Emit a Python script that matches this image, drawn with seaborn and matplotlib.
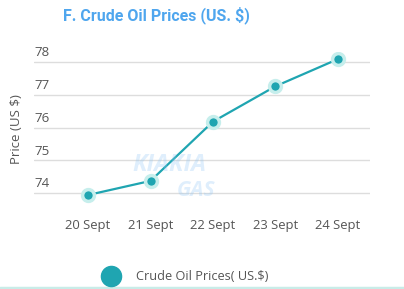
import matplotlib
matplotlib.use("Agg")
import matplotlib.pyplot as plt
import seaborn as sns
import pandas as pd
from matplotlib.lines import Line2D

dates = ["20 Sept", "21 Sept", "22 Sept", "23 Sept", "24 Sept"]
prices = [73.94, 74.37, 76.18, 77.26, 78.09]
y_ticks = [74, 75, 76, 77, 78]
title = "F. Crude Oil Prices (US. $)"
y_label = "Price (US $)"
series_name = "Crude Oil Prices( US.$)"

sns.set_theme(style="white")
plt.rcParams["font.family"] = ["Open Sans", "DejaVu Sans"]

LINE = "#1fa5b1"
HALO = "#c6eeec"
GRAY = "#555555"

df = pd.DataFrame({"date": dates, "price": prices})
df["pos"] = range(len(dates))

fig = plt.figure(figsize=(4.04, 2.89), dpi=100)
ax = fig.add_axes([0.0842, 0.2754, 0.8316, 0.544])

# faint watermark (behind the data)
fig.text(0.42, 0.43, "KIAKIA", ha="center", va="center", fontsize=17,
         fontweight="bold", style="italic", color="#8cc4f5", alpha=0.28, zorder=0)
fig.text(0.485, 0.34, "GAS", ha="center", va="center", fontsize=15,
         fontweight="bold", style="italic", color="#8cc4f5", alpha=0.28, zorder=0)

sns.lineplot(data=df, x="pos", y="price", ax=ax, color=LINE, linewidth=1.6,
             marker="o", markersize=8.5, markerfacecolor=LINE,
             markeredgecolor=HALO, markeredgewidth=2.5, zorder=3)
ax.patch.set_alpha(0)

ax.set_xlim(-0.864, 4.512)
ax.set_ylim(73.5, 78.3)
ax.set_xticks(df["pos"])
ax.set_xticklabels(dates, fontsize=9.4, color=GRAY)
ax.set_yticks(y_ticks)
ax.set_yticklabels([])
ax.tick_params(axis="both", length=0)
ax.tick_params(axis="x", pad=7)
ax.grid(axis="y", color="#dddddd", linewidth=1.0)
ax.grid(axis="x", visible=False)
for s in ax.spines.values():
    s.set_visible(False)
ax.set_xlabel("")
ax.set_ylabel("")

for v in y_ticks:
    ax.annotate(str(v), xy=(0, v), xycoords=("axes fraction", "data"),
                xytext=(0, 2), textcoords="offset points",
                ha="left", va="bottom", fontsize=9.5, color=GRAY)

fig.text(0.042, 0.554, y_label, rotation=90, ha="center", va="center",
         fontsize=9.5, color=GRAY)

fig.text(0.388, 0.947, title, ha="center", va="center", fontsize=11.5,
         fontweight="bold", color="#4fa6ee", family=["Roboto", "DejaVu Sans"])

handle = Line2D([], [], linestyle="none", marker="o", markersize=14.5,
                markerfacecolor=LINE, markeredgecolor=LINE)
fig.legend([handle], [series_name], loc="center left",
           bbox_to_anchor=(0.231, 0.043), frameon=False, fontsize=9.2,
           labelcolor=GRAY, handletextpad=0.95, borderaxespad=0)

fig.add_artist(Line2D([0, 1], [0.003, 0.003], transform=fig.transFigure,
                      color="#c9ece8", linewidth=2.5))

fig.savefig("out.png", dpi=100)
